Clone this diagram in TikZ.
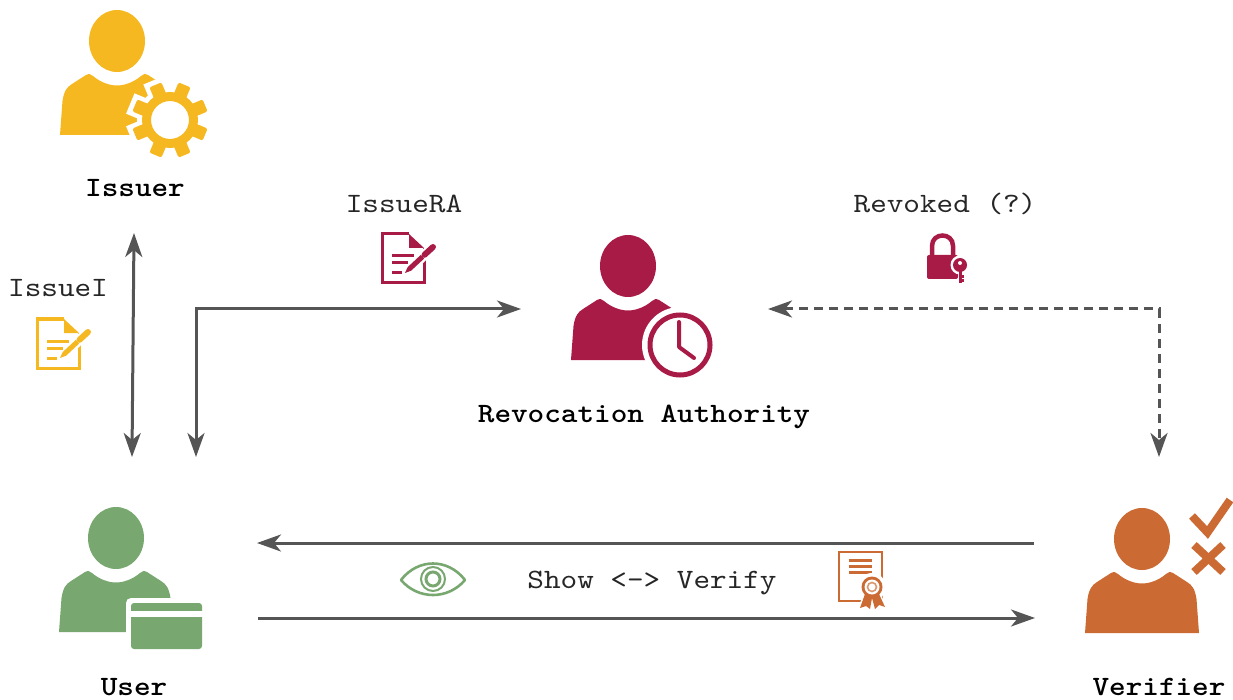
\documentclass[tikz,border=0pt]{standalone}
\usepackage{fontspec}
\setmonofont[Extension=.otf,BoldFont=lmmonolt10-bold,FakeStretch=1.13]{lmmono10-regular}
\usetikzlibrary{arrows.meta}
\definecolor{issuercol}{HTML}{F5B821}
\definecolor{authcol}{HTML}{A91B47}
\definecolor{usercol}{HTML}{78A870}
\definecolor{verifiercol}{HTML}{CC6A33}
\definecolor{flowcol}{HTML}{555555}
\tikzset{
    role/.style={font=\fontsize{28}{30}\selectfont\ttfamily\bfseries,inner sep=0pt,anchor=base},
    tag/.style={font=\fontsize{28}{30}\selectfont\ttfamily,inner sep=0pt,anchor=base,text=black!85},
    flow/.style={flowcol,line width=3pt,>={Stealth[length=24pt,width=17pt,inset=7pt]}},
    maybeflow/.style={flow,dash pattern=on 9pt off 6pt},
    pics/personicon/.style={code={
        \fill[#1] (0,0) circle[x radius=28pt,y radius=31pt];
        \fill[#1] (-57,94)--(-54.5,60)..controls(-53,50) and (-50,46)..(-45,43)--(-31,34)
            ..controls(-28,32.5) and (-26,33)..(-24,35)..controls(-17,41) and (-8,44.5)..(0,44.5)
            ..controls(8,44.5) and (17,41)..(24,35)..controls(26,33) and (28,32.5)..(31,34)
            --(45,43)..controls(50,46) and (53,50)..(54.5,60)--(57,94)--cycle;
    }},
    pics/docpen/.style={code={
        \draw[#1,line width=3pt] (42,14)--(42,49)--(0,49)--(0,0)--(27,0);
        \fill[#1] (27,0)--(42,14)--(27,14)--cycle;
        \draw[white,line width=10pt] (24,38)--(53,11);
        \draw[#1,line width=3pt] (10,22)--(32,22) (10,29)--(26,29) (10,39)--(20,39);
        \fill[#1] (23,39)--(29.1,36.7)--(42.2,24.5)--(38.8,20.9)--(25.7,33.1)--cycle;
        \draw[#1,line width=6pt,line cap=round] (42.5,20.8)--(51,13);
    }},
    pics/gearicon/.style={code={
        \fill[white] (0,0) circle[radius=33pt];
        \foreach \a in {22.5,67.5,...,337.5}
            \fill[white,rotate=\a] (26,-11)rectangle(43,11);
        \foreach \a in {22.5,67.5,...,337.5}
            \fill[#1,rotate=\a,rounded corners=2pt] (25,-6.5)rectangle(38,6.5);
        \draw[#1,line width=9pt] (0,0) circle[radius=23.5pt];
    }},
    pics/clockicon/.style={code={
        \fill[white] (0,0) circle[radius=38pt];
        \draw[#1,line width=5pt] (0,0) circle[radius=30pt];
        \draw[#1,line width=4pt,line cap=round,line join=round] (-1,-23)--(-1,2)--(14,13);
    }},
    pics/cardicon/.style={code={
        \fill[white,rounded corners=5pt] (-5,-5)rectangle(76,51);
        \fill[#1,rounded corners=3pt] (0,0)rectangle(71,46);
        \fill[white] (-1,8)rectangle(72,14);
    }},
    pics/lockicon/.style={code={
        \fill[#1,rounded corners=2pt] (0,22)rectangle(31,46);
        \draw[#1,line width=4.5pt] (5,22)--(5,13)..controls(5,-1) and (26,-1)..(26,13)--(26,22);
        \fill[white] (33,32) circle[radius=9.5pt];
        \draw[#1,line width=3pt] (33,36)--(33,50) (33,44)--(36.5,44) (33,48)--(36.5,48);
        \fill[#1] (33,32) circle[radius=7pt];
        \fill[white] (33,30) circle[radius=2pt];
    }},
    pics/eyeicon/.style={code={
        \draw[#1,line width=2.6pt,line join=round] (-32,1)..controls(-15,-21) and (15,-21)..(32,1)
            ..controls(15,21) and (-15,21)..cycle;
        \draw[#1,line width=2pt] (0,0) circle[radius=12pt];
        \draw[#1,line width=3pt] (0,0) circle[radius=7pt];
    }},
    pics/certicon/.style={code={
        \draw[#1,line width=2.5pt] (0,0)rectangle(43,49);
        \draw[#1,line width=3pt] (10,8)--(33,8) (10,14)--(33,14) (10,20)--(33,20);
        \fill[white] (33,35) circle[radius=14pt];
        \fill[white] (24,42)--(19,58)--(48,58)--(42,42)--cycle;
        \fill[#1] (26,42)--(21,56)--(27,54)--(31,57)--(33,46)--(36,57)--(40,53)--(46,55)--(40,42)--cycle;
        \fill[#1] (33,35) circle[radius=10.5pt];
        \fill[white] (33,35) circle[radius=7.5pt];
        \draw[#1!70,line width=1.6pt] (33,35) circle[radius=4.5pt];
    }},
    pics/verdicticon/.style={code={
        \draw[#1,line width=8pt] (0,0)--(15.5,16.5)--(38,-16);
        \draw[#1,line width=8pt] (2,29)--(31,56) (31,29)--(2,56);
    }}
}
\begin{document}
\begin{tikzpicture}[x=1pt,y=-1pt]
\useasboundingbox (0,0) rectangle (1233,700);
\pic at (117,41) {personicon=issuercol};
\pic at (170,120) {gearicon=issuercol};
\pic at (116,538) {personicon=usercol};
\pic at (131,603) {cardicon=usercol};
\pic at (628,266) {personicon=authcol};
\pic at (680,345) {clockicon=authcol};
\pic at (1142,539) {personicon=verifiercol};
\pic at (1192,516) {verdicticon=verifiercol};
\pic at (37,319) {docpen=issuercol};
\pic at (382,234) {docpen=authcol};
\pic at (927,233) {lockicon=authcol};
\pic at (433,579) {eyeicon=usercol};
\pic at (839,552) {certicon=verifiercol};
\node[role] (issuer) at (135,197) {Issuer};
\node[role] (authority) at (644,422) {Revocation Authority};
\node[role] (user) at (134,695) {User};
\node[role] (verifier) at (1159,695) {Verifier};
\node[tag] (issueI) at (58,297) {IssueI};
\node[tag] (issueRA) at (404,213) {IssueRA};
\node[tag] (revoked) at (945,213) {Revoked (?)};
\node[tag] (show) at (652,588) {Show <-> Verify};
\coordinate (issuerEnd) at (134,233);
\coordinate (userEnd) at (132,457);
\coordinate (userRA) at (196,457);
\coordinate (cornerRA) at (196,309);
\coordinate (authIn) at (521,309);
\coordinate (authOut) at (768,309);
\coordinate (cornerV) at (1159,309);
\coordinate (verifierEnd) at (1159,457);
\coordinate (showRight) at (1034,543);
\coordinate (showLeft) at (257,543);
\coordinate (verifyLeft) at (258,618);
\coordinate (verifyRight) at (1035,618);
\draw[flow,<->] (issuerEnd)--(userEnd);
\draw[flow,<->] (userRA)--(cornerRA)--(authIn);
\draw[maybeflow,<->] (authOut)--(cornerV)--(verifierEnd);
\draw[flow,->] (showRight)--(showLeft);
\draw[flow,->] (verifyLeft)--(verifyRight);
\end{tikzpicture}
\end{document}
